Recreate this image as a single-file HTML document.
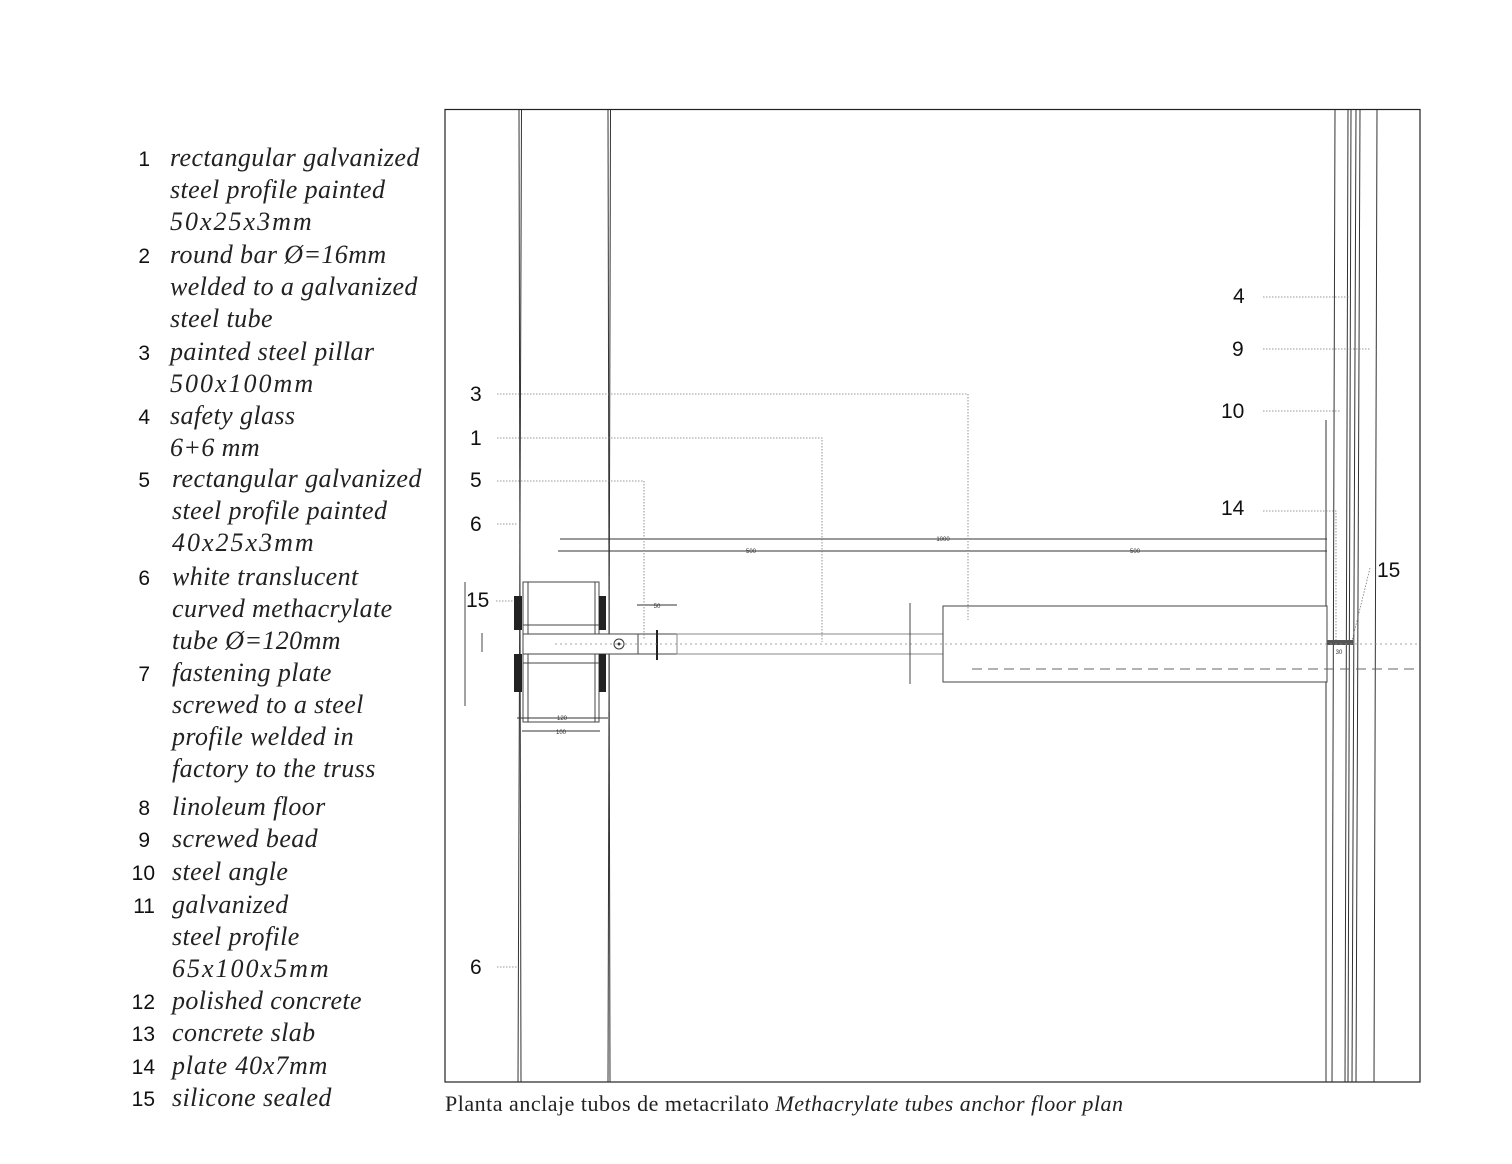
<!DOCTYPE html>
<html><head><meta charset="utf-8"><style>
html,body{margin:0;padding:0;background:#fff}
svg{display:block}
.n{font-family:"Liberation Sans",sans-serif;font-size:21px;fill:#111}
.t{font-family:"Liberation Serif",serif;font-style:italic;font-size:26px;fill:#222;letter-spacing:0.4px}
.d{font-family:"Liberation Sans",sans-serif;font-size:6px;fill:#333}
</style></head><body>
<svg width="1512" height="1164" viewBox="0 0 1512 1164" xmlns="http://www.w3.org/2000/svg">
<g class="n" text-anchor="end">
<text x="150" y="166">1</text><text x="150" y="263">2</text><text x="150" y="360">3</text>
<text x="150" y="424">4</text><text x="150" y="487">5</text><text x="150" y="585">6</text>
<text x="150" y="681">7</text><text x="150" y="815">8</text><text x="150" y="847">9</text>
<text x="155" y="880">10</text><text x="155" y="913">11</text><text x="155" y="1009">12</text>
<text x="155" y="1041">13</text><text x="155" y="1074">14</text><text x="155" y="1106">15</text>
</g>
<g class="t">
<text x="170" y="166">rectangular galvanized</text>
<text x="170" y="198">steel profile painted</text>
<text x="170" y="230" letter-spacing="2">50x25x3mm</text>
<text x="170" y="263">round bar Ø=16mm</text>
<text x="170" y="295">welded to a galvanized</text>
<text x="170" y="327">steel tube</text>
<text x="170" y="360">painted steel pillar</text>
<text x="170" y="392" letter-spacing="2">500x100mm</text>
<text x="170" y="424">safety glass</text>
<text x="170" y="456">6+6 mm</text>
<text x="172" y="487">rectangular galvanized</text>
<text x="172" y="519">steel profile painted</text>
<text x="172" y="551" letter-spacing="2">40x25x3mm</text>
<text x="172" y="585">white translucent</text>
<text x="172" y="617">curved methacrylate</text>
<text x="172" y="649">tube Ø=120mm</text>
<text x="172" y="681">fastening plate</text>
<text x="172" y="713">screwed to a steel</text>
<text x="172" y="745">profile welded in</text>
<text x="172" y="777">factory to the truss</text>
<text x="172" y="815">linoleum floor</text>
<text x="172" y="847">screwed bead</text>
<text x="172" y="880">steel angle</text>
<text x="172" y="913">galvanized</text>
<text x="172" y="945">steel profile</text>
<text x="172" y="977" letter-spacing="2">65x100x5mm</text>
<text x="172" y="1009">polished concrete</text>
<text x="172" y="1041">concrete slab</text>
<text x="172" y="1074" letter-spacing="0.8">plate 40x7mm</text>
<text x="172" y="1106">silicone sealed</text>
</g>

<rect x="445" y="109.5" width="975" height="972.5" fill="none" stroke="#222" stroke-width="1.2"/>
<g stroke="#333" stroke-width="1" fill="none">
<line x1="519" y1="110" x2="521" y2="1082"/><line x1="521.5" y1="110" x2="518" y2="1082"/>
<line x1="608" y1="110" x2="610" y2="1082"/><line x1="610.5" y1="110" x2="608" y2="1082"/>
<line x1="1335" y1="110" x2="1332" y2="1082"/>
<line x1="1348" y1="110" x2="1345" y2="1082"/>
<line x1="1351" y1="110" x2="1348" y2="1082"/>
<line x1="1356" y1="110" x2="1352" y2="1082"/>
<line x1="1360" y1="110" x2="1356" y2="1082"/>
<line x1="1377" y1="110" x2="1374" y2="1082"/>
<line x1="1326" y1="420" x2="1326" y2="1082"/>
</g>
<g stroke="#444" stroke-width="1" fill="#fff">
<rect x="523" y="582" width="76" height="140"/>
<line x1="528" y1="582" x2="528" y2="722"/><line x1="595" y1="582" x2="595" y2="722"/>
<line x1="523" y1="625" x2="599" y2="625"/><line x1="523" y1="663" x2="599" y2="663"/>
<rect x="523" y="634" width="154" height="20"/>
<line x1="638" y1="634" x2="638" y2="654"/>
<rect x="677" y="634" width="266" height="20" stroke="#888"/>
<rect x="943" y="606" width="384" height="76"/>
</g>
<g fill="#222">
<rect x="514" y="596" width="8" height="34"/><rect x="514" y="654" width="8" height="38"/>
<rect x="599" y="596" width="7" height="34"/><rect x="599" y="654" width="7" height="38"/>
<rect x="1327" y="640" width="26" height="5" fill="#555"/>
</g>
<circle cx="619" cy="644" r="5" fill="none" stroke="#333"/><circle cx="619" cy="644" r="1.5" fill="#333"/>
<line x1="657" y1="630" x2="657" y2="660" stroke="#222" stroke-width="2"/>
<line x1="555" y1="644" x2="1420" y2="644" stroke="#888" stroke-width="0.8" stroke-dasharray="2 3"/>
<line x1="972" y1="669" x2="1420" y2="669" stroke="#666" stroke-dasharray="10 6"/>
<g stroke="#333" stroke-width="0.9" fill="none">
<line x1="560" y1="539" x2="1327" y2="539"/><line x1="558" y1="551" x2="1327" y2="551"/>
<line x1="465" y1="582" x2="465" y2="706"/><line x1="482" y1="633" x2="482" y2="652"/>
<line x1="910" y1="603" x2="910" y2="684"/>
<line x1="517" y1="718" x2="608" y2="718"/><line x1="522" y1="731" x2="600" y2="731"/>
<line x1="637" y1="605" x2="677" y2="605"/>
</g>
<g class="d" text-anchor="middle">
<text x="943" y="541">1000</text><text x="751" y="553">500</text><text x="1135" y="553">500</text>
<text x="562" y="720">120</text><text x="561" y="734">100</text><text x="657" y="608">50</text>
<text x="1339" y="654">30</text>
</g>
<g stroke="#777" stroke-width="0.8" fill="none" stroke-dasharray="1.5 1.5">
<polyline points="497,394 968,394 968,620"/>
<polyline points="497,438 822,438 822,642"/>
<polyline points="497,481 644,481 644,640"/>
<line x1="497" y1="524" x2="517" y2="524"/>
<line x1="496" y1="601" x2="514" y2="601"/>
<line x1="497" y1="967" x2="517" y2="967"/>
<line x1="1263" y1="297" x2="1350" y2="297"/>
<line x1="1263" y1="349" x2="1370" y2="349"/>
<line x1="1263" y1="411" x2="1340" y2="411"/>
<polyline points="1263,511 1336,511 1336,640"/>
<line x1="1370" y1="568" x2="1352" y2="641"/>
</g>
<g class="n">
<text x="470" y="401">3</text><text x="470" y="445">1</text><text x="470" y="487">5</text>
<text x="470" y="531">6</text><text x="466" y="607">15</text><text x="470" y="974">6</text>
<text x="1233" y="303">4</text><text x="1232" y="356">9</text><text x="1221" y="418">10</text>
<text x="1221" y="515">14</text><text x="1377" y="577">15</text>
</g>
<text x="445" y="1111" style="font-family:'Liberation Serif',serif;font-size:22px;fill:#222" textLength="678" lengthAdjust="spacing">Planta anclaje tubos de metacrilato  <tspan font-style="italic">Methacrylate tubes anchor floor plan</tspan></text>
</svg>
</body></html>
